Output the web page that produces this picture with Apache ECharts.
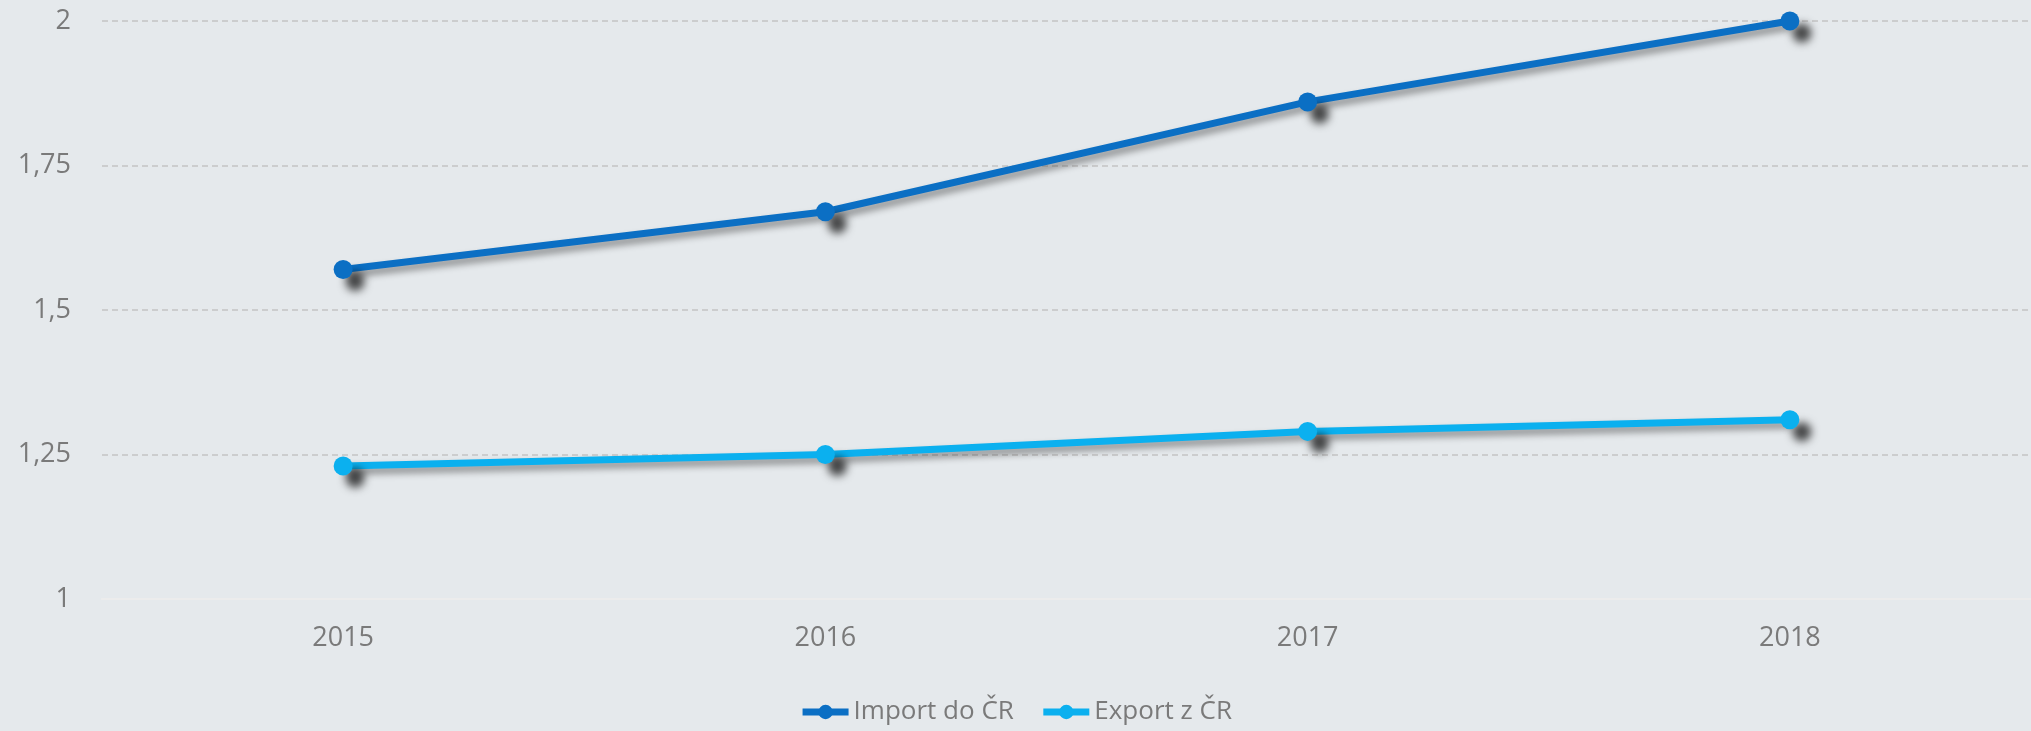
<!DOCTYPE html>
<html>
<head>
<meta charset="utf-8">
<script src="https://cdn.jsdelivr.net/npm/echarts@6/dist/echarts.min.js"></script>
<style>
  html, body { margin: 0; padding: 0; background: #e5e9ec; }
  #chart { width: 2031px; height: 731px; }
</style>
</head>
<body>
<div id="chart"></div>
<script>
var years = ['2015', '2016', '2017', '2018'];
var importData = [1.57, 1.67, 1.86, 2.0];
var exportData = [1.23, 1.25, 1.29, 1.31];
var seriesNames = ['Import do ČR', 'Export z ČR'];

var dom = document.getElementById('chart');
var myChart = echarts.init(dom);

function lineSeries(name, color, data) {
    return {
        name: name,
        type: 'line',
        data: data,
        symbol: 'circle',
        symbolSize: 19,
        lineStyle: {
            color: color,
            width: 7,
            shadowColor: 'rgba(0,0,0,0.4)',
            shadowBlur: 7,
            shadowOffsetX: 3,
            shadowOffsetY: 5
        },
        itemStyle: {
            color: color,
            shadowColor: 'rgba(0,0,0,0.7)',
            shadowBlur: 9,
            shadowOffsetX: 12,
            shadowOffsetY: 12
        },
        emphasis: { disabled: true }
    };
}

var option = {
    backgroundColor: '#e5e9ec',
    animation: false,
    textStyle: { fontFamily: 'Open Sans' },
    legend: {
        data: seriesNames,
        bottom: 1,
        left: 'center',
        itemWidth: 46,
        itemHeight: 18,
        itemGap: 26,
        lineStyle: { width: 7, shadowBlur: 0, shadowOffsetX: 0, shadowOffsetY: 0 },
        itemStyle: { shadowBlur: 0, shadowOffsetX: 0, shadowOffsetY: 0 },
        textStyle: { color: '#7a7a7a', fontSize: 26, fontFamily: 'Open Sans' }
    },
    grid: {
        left: 102,
        right: -6,
        top: 21,
        bottom: 132
    },
    xAxis: {
        type: 'category',
        data: years,
        axisLine: { show: true, lineStyle: { color: '#ececec', width: 2 } },
        axisTick: { show: false },
        axisLabel: { color: '#7a7a7a', fontSize: 27, margin: 26 }
    },
    yAxis: {
        type: 'value',
        min: 1,
        max: 2,
        interval: 0.25,
        axisLine: { show: false },
        axisTick: { show: false },
        axisLabel: {
            color: '#7a7a7a',
            fontSize: 27,
            margin: 31,
            formatter: function (v) { return String(v).replace('.', ','); }
        },
        splitLine: { lineStyle: { color: '#c4c4c4', type: [6, 4], width: 1.5 } }
    },
    series: [
        lineSeries(seriesNames[0], '#0b6fc4', importData),
        lineSeries(seriesNames[1], '#0bb0ef', exportData)
    ]
};

myChart.setOption(option);
</script>
</body>
</html>
